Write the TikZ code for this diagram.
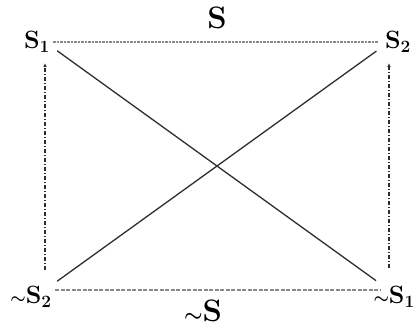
\documentclass[tikz,border=0pt]{standalone}
\usepackage{amsmath,amssymb}
\usepackage{tikz}
\usetikzlibrary{arrows.meta,positioning}
\definecolor{SqInk}{HTML}{2E2E2E}
\definecolor{SqGrey}{HTML}{8A8A8A}

\begin{document}
\begin{tikzpicture}[x=1pt,y=-1pt,
        lbl/.style={inner sep=0pt,font=\fontsize{25}{28}\selectfont\bfseries\boldmath},
        big/.style={inner sep=0pt,font=\fontsize{31}{34}\selectfont\bfseries\boldmath},
        diag/.style={draw=SqInk,line width=1.3pt},
        upper/.style={draw=SqGrey,line width=1.4pt,dash pattern=on 2.5pt off 1pt},
        lower/.style={draw=SqGrey,line width=1.3pt,dash pattern=on 4pt off 1.5pt},
        side/.style={draw=SqInk,line width=1.2pt,dash pattern=on 4pt off 2pt on 1pt off 2pt,
          -{Latex[length=4pt,width=3.5pt]}}
      ]
        \useasboundingbox (0,0) rectangle (416,327);
        % corners of the square
        \coordinate (a) at (45,42);
        \coordinate (b) at (389,42);
        \coordinate (c) at (45,290);
        \coordinate (d) at (389,290);
        % labels
        \node[lbl] (s1) at (37,42) {S$_{\mathbf 1}$};
        \node[lbl] (s2) at (398,42) {S$_{\mathbf 2}$};
        \node[lbl] (ns2) at (31,297) {{\fontsize{17}{17}\selectfont$\sim$}S$_{\mathbf 2}$};
        \node[lbl,anchor=east] (ns1) at (415,297) {{\fontsize{17}{17}\selectfont$\sim$}S$_{\mathbf 1}$};
        \node[big] (s) at (217,18) {S};
        \node[big] (ns) at (203,311) {{\fontsize{20}{20}\selectfont$\sim$}S};
        % edges
        \draw[upper,shorten <=8pt,shorten >=11pt] (a) -- (b);
        \draw[lower,shorten <=10pt,shorten >=9pt] (c) -- (d);
        \draw[side,shorten <=20pt,shorten >=21pt] (c) -- (a);
        \draw[side,shorten <=22pt,shorten >=21pt] (d) -- (b);
        \draw[diag,shorten <=15pt,shorten >=16pt] (a) -- (d);
        \draw[diag,shorten <=15pt,shorten >=15.5pt] (c) -- (b);
      \end{tikzpicture}
\end{document}
